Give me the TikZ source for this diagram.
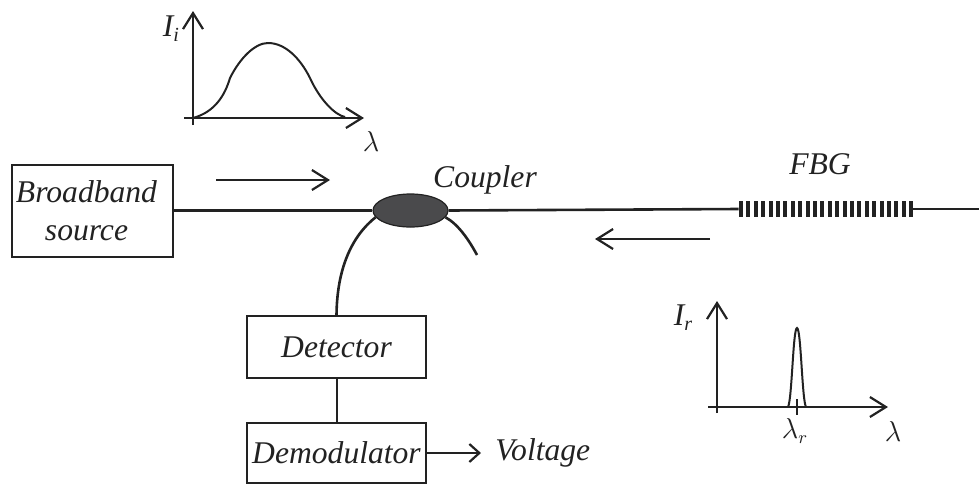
\documentclass[tikz,border=0pt]{standalone}
\usepackage{fontspec}
\setmainfont{Liberation Serif}
\usetikzlibrary{arrows.meta, positioning, shapes.geometric}
\definecolor{inkColor}{HTML}{222222}
\definecolor{couplerFill}{HTML}{4A4A4C}

\begin{document}
\begin{tikzpicture}[
    x=0.5pt, y=-0.5pt,
    font=\fontsize{15.8}{18}\selectfont\itshape,
    blockbox/.style={
        draw=inkColor, line width=1pt, align=center,
        inner sep=0pt, text=inkColor
    },
    fibre/.style={inkColor, line width=1.3pt},
    axisline/.style={
        -{Straight Barb[length=8pt,width=10pt,line width=1.1pt]},
        inkColor, line width=1.1pt
    },
    dirarrow/.style={
        -{Straight Barb[length=8pt,width=10pt,line width=1.1pt]},
        inkColor, line width=1.4pt
    },
    smallarrow/.style={
        -{Straight Barb[length=5pt,width=9pt,line width=1.1pt]},
        inkColor, line width=1.2pt
    },
    curveline/.style={inkColor, line width=1pt},
    txt/.style={text=inkColor, inner sep=0pt},
    lamtxt/.style={txt, font=\fontsize{13.5}{16}\selectfont},
]
\useasboundingbox (0,0) rectangle (979,483);

% ============================================================
%  BLOCKS
% ============================================================
\node[blockbox, minimum width=80.5pt, minimum height=46pt]
    (source) at (92.5,211) {Broadband\kern6pt\\[1pt]source\kern6pt};
\node[blockbox, minimum width=89.5pt, minimum height=31pt]
    (detector) at (336.5,347) {Detector};
\node[blockbox, minimum width=89.5pt, minimum height=30pt]
    (demod) at (336.5,453) {Demodulator};

\node[ellipse, draw=inkColor, fill=couplerFill, line width=0.6pt,
      minimum width=37.5pt, minimum height=16.5pt, inner sep=0pt]
    (coupler) at (410.5,210.5) {};

\node[inner sep=0pt, minimum width=87pt, minimum height=8pt] (fbg) at (826,209) {};
\coordinate (fibreEnd) at (979,209);
\coordinate (tapEnd) at (477,255);
\coordinate (volt) at (481,453);

% ============================================================
%  FIBRES
% ============================================================
\draw[fibre] (source.east |- coupler) -- (coupler.west);
\draw[fibre] (coupler.east) -- (fbg.west);
\draw[fibre] (fbg.east) -- (fibreEnd);
\draw[fibre] (coupler.191) .. controls (352,236) and (337,268) .. (detector.north);
\draw[fibre] (coupler.-11) .. controls (458,224) and (469,240) .. (tapEnd);
\draw[curveline] (detector.south) -- (demod.north);
\draw[smallarrow] (demod.east) -- (volt);

% grating bars
\foreach \i in {0,...,23}
    \draw[inkColor, line width=2pt] ({741+\i*7.4},201) -- ({741+\i*7.4},217);

\coordinate (fwdA) at (216,180);
\coordinate (fwdB) at (330,180);
\coordinate (backA) at (710,239);
\coordinate (backB) at (595,239);
\draw[dirarrow] (fwdA) -- (fwdB);
\draw[dirarrow] (backA) -- (backB);

% ============================================================
%  INPUT SPECTRUM
% ============================================================
\coordinate (oi) at (193,118);
\coordinate (iTop) at (193,11);
\coordinate (iBot) at (193,125);
\coordinate (iLeft) at (184,118);
\coordinate (iRight) at (364,118);
\draw[axisline] (iBot) -- (iTop);
\draw[axisline] (iLeft) -- (iRight);
\draw[curveline] (oi) .. controls (215,112) and (225,95) .. (230,78)
    .. controls (240,58) and (255,43) .. (268,43)
    .. controls (285,43) and (300,58) .. (310,78)
    .. controls (320,100) and (335,115) .. (345,117);

\node[txt] (iiLabel) at (171,29) {I\raisebox{-2.5pt}{\fontsize{10}{12}\selectfont i}};
\node[lamtxt] (lamI) at (371,141) {$\lambda$};

% ============================================================
%  REFLECTED SPECTRUM
% ============================================================
\coordinate (or) at (717,407);
\coordinate (rTop) at (717,301);
\coordinate (rBot) at (717,413);
\coordinate (rLeft) at (708,407);
\coordinate (rRight) at (888,407);
\draw[axisline] (rBot) -- (rTop);
\draw[axisline] (rLeft) -- (rRight);
\coordinate (peakA) at (788,407);
\coordinate (peakB) at (806,407);
\draw[curveline] (peakA) .. controls (792,400) and (793,328) .. (797,328)
    .. controls (801,328) and (802,400) .. (peakB);
\coordinate (tickA) at (797,399);
\coordinate (tickB) at (797,415);
\draw[curveline] (tickA) -- (tickB);

\node[txt] (irLabel) at (683,318) {I\raisebox{-2.5pt}{\fontsize{10}{12}\selectfont r}};
\node[lamtxt] (lamR) at (795,431) {$\lambda_r$};
\node[lamtxt] (lamRB) at (893,431) {$\lambda$};

% ============================================================
%  LABELS
% ============================================================
\node[txt] (couplerLabel) at (485,180) {Coupler};
\node[txt] (fbgLabel) at (820,164) {FBG};
\node[txt, right=7pt of volt] (voltLabel) {Voltage};

\end{tikzpicture}
\end{document}
